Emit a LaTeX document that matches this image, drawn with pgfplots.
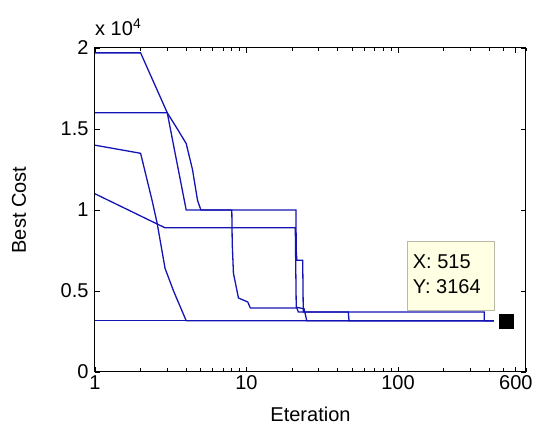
\documentclass[border=0pt]{standalone}
\usepackage{fontspec}
\setmainfont{Liberation Sans}
\usepackage{pgfplots}
\pgfplotsset{compat=1.18}

\definecolor{runblue}{RGB}{20,20,180}
\definecolor{tipfill}{RGB}{255,255,228}
\definecolor{tipedge}{RGB}{185,185,170}

\begin{document}
\begin{tikzpicture}[x=1pt,y=1pt]
\begin{axis}[
  at={(95pt,64pt)}, anchor=south west,
  width=431pt, height=324pt, scale only axis,
  xmode=log, xmin=1, xmax=700,
  ymin=0, ymax=20000,
  xtick={1,10,100,600}, xticklabels={1,10,100,600},
  minor xtick={2,3,4,5,6,7,8,9,20,30,40,50,60,70,80,90,200,300,400,500,700},
  ytick={0,5000,10000,15000,20000}, yticklabels={0,0.5,1,1.5,2},
  scaled y ticks=false,
  tick align=inside, xtick pos=both, ytick pos=both,
  major tick length=5pt, minor tick length=3.5pt,
  every tick/.style={black, line width=0.8pt},
  axis line style={black, line width=1pt},
  tick label style={font=\fontsize{20}{24}\selectfont},
  yticklabel style={xshift=-3pt},
  label style={font=\fontsize{20}{24}\selectfont},
  xlabel={Eteration},
  xlabel style={at={(axis description cs:0.5,0)}, anchor=base, yshift=-50pt},
  ylabel={Best Cost},
  ylabel style={at={(axis description cs:0,0.5)}, anchor=center, yshift=76pt},
  clip=false,
]
% run starting at 19700
\addplot[runblue, line width=1.3pt] coordinates {
  (1,19700) (2,19700) (3,16000) (3.5,15000) (4,14100) (4.4,12500) (4.75,10600)
  (5,10000) (21.2,10000) (21.3,7500) (21.5,6900) (23.5,6900) (23.7,3700)
  (371,3700) (371,3164) (430,3164)
};
% run starting at 16000
\addplot[runblue, line width=1.3pt] coordinates {
  (1,16000) (3,16000) (3.3,14000) (3.66,11850) (4,10000) (8,10000)
  (8.05,7960) (8.2,6100) (8.85,4570) (10.2,4320) (10.6,3950) (21.5,3950)
  (22,3700) (47,3700) (47.5,3164) (430,3164)
};
% run starting at 14000
\addplot[runblue, line width=1.3pt] coordinates {
  (1,14000) (2,13500) (2.38,10600) (2.57,9200) (2.9,6400) (3.3,5000)
  (4,3164) (430,3164)
};
% run starting at 11000
\addplot[runblue, line width=1.3pt] coordinates {
  (1,11000) (2.9,8900) (21,8900) (21.3,4000) (24,3900) (25,3164) (430,3164)
};
% run at the minimum from the start
\addplot[runblue, line width=1.3pt] coordinates {(1,3164) (430,3164)};
% data tip
\draw[tipedge, fill=tipfill, line width=0.6pt]
  (axis cs:115,3830) rectangle (axis cs:432,8090);
\node[anchor=west, inner sep=0pt, font=\fontsize{20}{24}\selectfont]
  at (axis cs:125,6790) {X: 515};
\node[anchor=west, inner sep=0pt, font=\fontsize{20}{24}\selectfont]
  at (axis cs:125,5250) {Y: 3164};
\addplot[only marks, mark=square*, mark size=7pt, black] coordinates {(515,3164)};
% exponent label
\node[anchor=base west, inner sep=0pt, font=\fontsize{20}{24}\selectfont]
  at (rel axis cs:0,1) [yshift=12pt] {x 10\textsuperscript{4}};
\end{axis}
\pgfresetboundingbox
\useasboundingbox (0,0) rectangle (533,436);
\end{tikzpicture}
\end{document}
